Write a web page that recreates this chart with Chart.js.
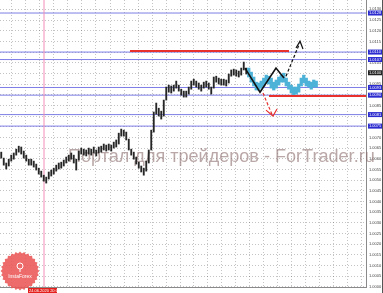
<!DOCTYPE html>
<html>
<head>
<meta charset="utf-8">
<script src="https://cdn.jsdelivr.net/npm/chart.js@4.4.1/dist/chart.umd.min.js"></script>
<style>
  html, body { margin: 0; padding: 0; background: #fff; overflow: hidden; }
  #wrap { width: 383px; height: 293px; position: relative; }
</style>
</head>
<body>
<div id="wrap"><canvas id="chart"></canvas></div>
<script>
// candles (one unit on x = one bar)
const candleHigh = [
  1.00631, 1.00603, 1.00580, 1.00598, 1.00617, 1.00627, 1.00645, 1.00659, 1.00655, 1.00636,
  1.00617, 1.00598, 1.00598, 1.00589, 1.00575, 1.00556, 1.00542, 1.00523, 1.00514, 1.00538,
  1.00547, 1.00556, 1.00570, 1.00580, 1.00584, 1.00594, 1.00608, 1.00617, 1.00627, 1.00617,
  1.00598, 1.00636, 1.00650, 1.00645, 1.00641, 1.00650, 1.00645, 1.00655, 1.00641, 1.00655,
  1.00659, 1.00669, 1.00664, 1.00669, 1.00664, 1.00678, 1.00688, 1.00720, 1.00739, 1.00734,
  1.00725, 1.00692, 1.00645, 1.00631, 1.00608, 1.00584, 1.00566, 1.00556, 1.00589, 1.00641,
  1.00734, 1.00819, 1.00861, 1.00837, 1.00823, 1.00875, 1.00936, 1.00945, 1.00941, 1.00945,
  1.00964, 1.00945, 1.00926, 1.00917, 1.00917, 1.00936, 1.00964, 1.00973, 1.00964, 1.00955,
  1.00945, 1.00959, 1.00964, 1.00955, 1.00936, 1.00983, 1.00987, 1.00978, 1.00973, 1.00973,
  1.00969, 1.00997, 1.01016, 1.01020, 1.01016, 1.01011, 1.01025, 1.01053, 1.01025
];
const candleLow = [
  1.00603, 1.00570, 1.00552, 1.00566, 1.00589, 1.00598, 1.00617, 1.00631, 1.00622, 1.00603,
  1.00589, 1.00570, 1.00570, 1.00561, 1.00547, 1.00528, 1.00514, 1.00495, 1.00486, 1.00505,
  1.00519, 1.00528, 1.00542, 1.00552, 1.00556, 1.00566, 1.00580, 1.00589, 1.00598, 1.00580,
  1.00547, 1.00594, 1.00622, 1.00617, 1.00613, 1.00622, 1.00617, 1.00627, 1.00613, 1.00627,
  1.00631, 1.00641, 1.00636, 1.00641, 1.00636, 1.00650, 1.00655, 1.00669, 1.00706, 1.00706,
  1.00688, 1.00641, 1.00617, 1.00598, 1.00575, 1.00556, 1.00538, 1.00523, 1.00542, 1.00580,
  1.00641, 1.00725, 1.00809, 1.00800, 1.00786, 1.00800, 1.00875, 1.00912, 1.00908, 1.00917,
  1.00931, 1.00917, 1.00898, 1.00889, 1.00889, 1.00903, 1.00926, 1.00945, 1.00936, 1.00926,
  1.00917, 1.00931, 1.00936, 1.00926, 1.00903, 1.00931, 1.00959, 1.00950, 1.00945, 1.00945,
  1.00941, 1.00955, 1.00987, 1.00992, 1.00987, 1.00983, 1.00992, 1.01016, 1.00997
];

// projected path (cyan), starts right after the last candle
const forecastStart = 99;
const forecastHigh = [
  1.01025, 1.01006, 1.00983, 1.00959, 1.00955, 1.00964, 1.00978, 1.00992, 1.00987, 1.00978,
  1.00959, 1.00969, 1.00983, 1.00992, 1.01001, 1.00978, 1.00959, 1.00945, 1.00936, 1.00936,
  1.00950, 1.00978, 1.00992, 1.00978, 1.00964, 1.00959, 1.00969, 1.00964
];
const forecastLow = [
  1.00983, 1.00959, 1.00941, 1.00922, 1.00922, 1.00931, 1.00941, 1.00955, 1.00950, 1.00931,
  1.00922, 1.00931, 1.00945, 1.00959, 1.00959, 1.00941, 1.00926, 1.00908, 1.00898, 1.00903,
  1.00912, 1.00941, 1.00955, 1.00941, 1.00936, 1.00926, 1.00936, 1.00936
];

// levels
const blueLevels = [1.01283, 1.01100, 1.01065, 1.00934, 1.00898, 1.00807, 1.00753];
const redLevels = [1.01105, 1.00894];
const redFrom = [52, 107.6];
const redTo = [115.6, 146.4];
const lastPrice = 1.01003;

// drawn scenario lines
const zigzagX = [98, 104, 110.4, 113.6];
const zigzagY = [1.01025, 1.00912, 1.01025, 1.00978];
const upX = [114.4, 119.8];
const upY = [1.00987, 1.01140];
const upHeadX = [118.4, 120, 121.2];
const upHeadY = [1.01119, 1.01151, 1.01114];
const downX = [105.2, 108.9];
const downY = [1.00908, 1.00805];
const downHeadX = [106.4, 109.2, 110.8];
const downHeadY = [1.00828, 1.00800, 1.00833];
const markerX = 17.6;
const markerLabel = "24.06.2020 20:00";

// axes
const yTicks = [
  1.0000, 1.0005, 1.0010, 1.0015, 1.0020, 1.0025, 1.0030, 1.0035, 1.0040,
  1.0045, 1.0050, 1.0055, 1.0060, 1.0065, 1.0070, 1.0075, 1.0080, 1.0085,
  1.0090, 1.0095, 1.0100, 1.0105, 1.0110, 1.0115, 1.0120, 1.0125, 1.0130
];
const timeLabels = [
  "23 Jun 16:00", "24 Jun 08:00", "25 Jun 00:00", "25 Jun 16:00", "26 Jun 08:00",
  "29 Jun 00:00", "29 Jun 16:00", "30 Jun 08:00", "1 Jul 00:00", "1 Jul 16:00",
  "2 Jul 08:00", "3 Jul 00:00", "3 Jul 16:00"
];
const timeTickStart = -2.48;
const timeTickStep = 8.28;
const gridStart = 4.8;
const gridStep = 5.6;
const xMax = 146.4;
const yMin = 0.99999;
const yMax = 1.01344;

const watermark = "Портал для трейдеров - ForTrader.ru";

// helpers
function pts(xs, ys) {
  return xs.map((x, i) => ({ x: x, y: ys[i] }));
}
function lineSet(data, color, width, order, dash) {
  return {
    type: "line",
    data: data,
    borderColor: color,
    borderWidth: width,
    borderDash: dash || [],
    pointRadius: 0,
    fill: false,
    tension: 0,
    order: order,
  };
}
function zeroPad(scale) {
  scale.paddingTop = 0;
  scale.paddingBottom = 0;
  scale.paddingLeft = 0;
  scale.paddingRight = 0;
}

const datasets = [];

blueLevels.forEach((p) => {
  datasets.push(lineSet(pts([0, xMax], [p, p]), "rgba(112,112,228,0.9)", 1, 20));
});
datasets.push(lineSet(pts([markerX, markerX], [yMin, yMax]), "#f28db5", 1, 19));

datasets.push({
  type: "bar",
  data: candleHigh.map((h, i) => ({ x: i + 0.5, y: [candleLow[i], h] })),
  backgroundColor: "#262626",
  barThickness: 1.2,
  grouped: false,
  order: 18,
});
datasets.push({
  type: "bar",
  data: forecastHigh.map((h, i) => ({ x: forecastStart + i + 0.5, y: [forecastLow[i], h] })),
  backgroundColor: "#4db2d8",
  barThickness: 2.6,
  grouped: false,
  order: 17,
});

redLevels.forEach((p, i) => {
  datasets.push(lineSet(pts([redFrom[i], redTo[i]], [p, p]), "#e8302c", 2, 16));
});

datasets.push(lineSet(pts(zigzagX, zigzagY), "#111", 1.6, 15));
datasets.push(lineSet(pts(upX, upY), "#111", 1.2, 14, [3, 2]));
datasets.push(lineSet(pts(upHeadX, upHeadY), "#111", 1.2, 14));
datasets.push(lineSet(pts(downX, downY), "#e8302c", 1.2, 14, [3, 2]));
datasets.push(lineSet(pts(downHeadX, downHeadY), "#e8302c", 1.2, 14));

// watermark, price tags, logo
const overlay = {
  id: "overlay",
  beforeDatasetsDraw(chart) {
    const ctx = chart.ctx;
    ctx.save();
    ctx.font = '17px "Liberation Sans"';
    const size = 17 * 307 / ctx.measureText(watermark).width;
    ctx.font = size + 'px "Liberation Sans"';
    ctx.fillStyle = "rgba(140,108,108,0.6)";
    ctx.textBaseline = "alphabetic";
    ctx.fillText(watermark, 68, 162);
    ctx.restore();
  },
  afterDraw(chart) {
    const ctx = chart.ctx;
    const area = chart.chartArea;
    const ys = chart.scales.y;
    const xs = chart.scales.x;
    ctx.save();

    // price tags on the axis
    ctx.font = '4px "Liberation Sans"';
    ctx.textBaseline = "middle";
    const tag = (price, fill) => {
      const py = ys.getPixelForValue(price);
      ctx.fillStyle = fill;
      ctx.fillRect(area.right + 2, py - 2.5, 14, 5);
      ctx.fillStyle = "#fff";
      ctx.fillText(price.toFixed(4), area.right + 3, py);
    };
    blueLevels.forEach((p) => tag(p, "#2b2bd0"));
    tag(lastPrice, "#222");

    // date box of the marker line
    const mx = xs.getPixelForValue(markerX);
    ctx.fillStyle = "#e3201c";
    ctx.fillRect(mx - 16, area.bottom + 1, 29, 5);
    ctx.fillStyle = "#fff";
    ctx.fillText(markerLabel, mx - 15, area.bottom + 3.6);

    // badge
    const cx = 20, cy = 271;
    ctx.beginPath();
    for (let k = 0; k < 56; k++) {
      const a = (k / 56) * Math.PI * 2;
      const r = k % 2 ? 17.6 : 19.4;
      ctx.lineTo(cx + r * Math.cos(a), cy + r * Math.sin(a));
    }
    ctx.closePath();
    ctx.fillStyle = "rgba(234,86,86,0.88)";
    ctx.fill();
    ctx.strokeStyle = "#fff";
    ctx.lineWidth = 1;
    ctx.beginPath();
    ctx.arc(cx, cy - 5, 3, 0, Math.PI * 2);
    ctx.moveTo(cx, cy - 2);
    ctx.lineTo(cx, cy + 1);
    ctx.stroke();
    ctx.fillStyle = "#fff";
    ctx.font = '5px "Liberation Sans"';
    ctx.textAlign = "center";
    ctx.fillText("InstaForex", cx, cy + 6);

    // window edge
    ctx.fillStyle = "#555";
    ctx.fillRect(chart.width - 1, 0, 1, chart.height);
    ctx.restore();
  },
};

const ctx = document.getElementById("chart");
new Chart(ctx, {
  type: "bar",
  data: { datasets: datasets },
  plugins: [overlay],
  options: {
    responsive: true,
    maintainAspectRatio: false,
    animation: false,
    layout: { padding: 0 },
    plugins: { legend: { display: false }, tooltip: { enabled: false } },
    scales: {
      x: {
        type: "linear",
        position: "bottom",
        min: 0,
        max: xMax,
        offset: false,
        grid: { display: false, offset: false },
        border: { color: "#8a8a8a" },
        afterBuildTicks: (scale) => {
          scale.ticks = timeLabels.map((t, i) => ({ value: timeTickStart + i * timeTickStep }));
        },
        afterFit: (scale) => {
          scale.height = 6;
          zeroPad(scale);
        },
        ticks: {
          autoSkip: false,
          maxRotation: 0,
          align: "start",
          padding: 1,
          color: "#444",
          font: { size: 4, family: "Liberation Sans" },
          callback: (v, i) => timeLabels[i],
        },
      },
      xg: {
        type: "linear",
        position: "bottom",
        min: 0,
        max: xMax,
        offset: false,
        ticks: { display: false },
        grid: { color: "rgba(0,0,0,0.23)", drawTicks: false, offset: false },
        border: { display: false, dash: [1, 2] },
        afterBuildTicks: (scale) => {
          const list = [];
          for (let v = gridStart; v < xMax; v += gridStep) list.push({ value: v });
          scale.ticks = list;
        },
        afterFit: (scale) => {
          scale.height = 0;
          zeroPad(scale);
        },
      },
      y: {
        type: "linear",
        position: "right",
        min: yMin,
        max: yMax,
        beginAtZero: false,
        grid: { color: "rgba(0,0,0,0.23)", drawTicks: false },
        border: { color: "#8a8a8a", dash: [1, 2] },
        afterBuildTicks: (scale) => {
          scale.ticks = yTicks.map((v) => ({ value: v }));
        },
        afterFit: (scale) => {
          scale.width = 17;
          zeroPad(scale);
        },
        ticks: {
          padding: 3,
          color: "#444",
          font: { size: 4, family: "Liberation Sans" },
          callback: (v) => v.toFixed(4),
        },
      },
    },
  },
});
</script>
</body>
</html>
